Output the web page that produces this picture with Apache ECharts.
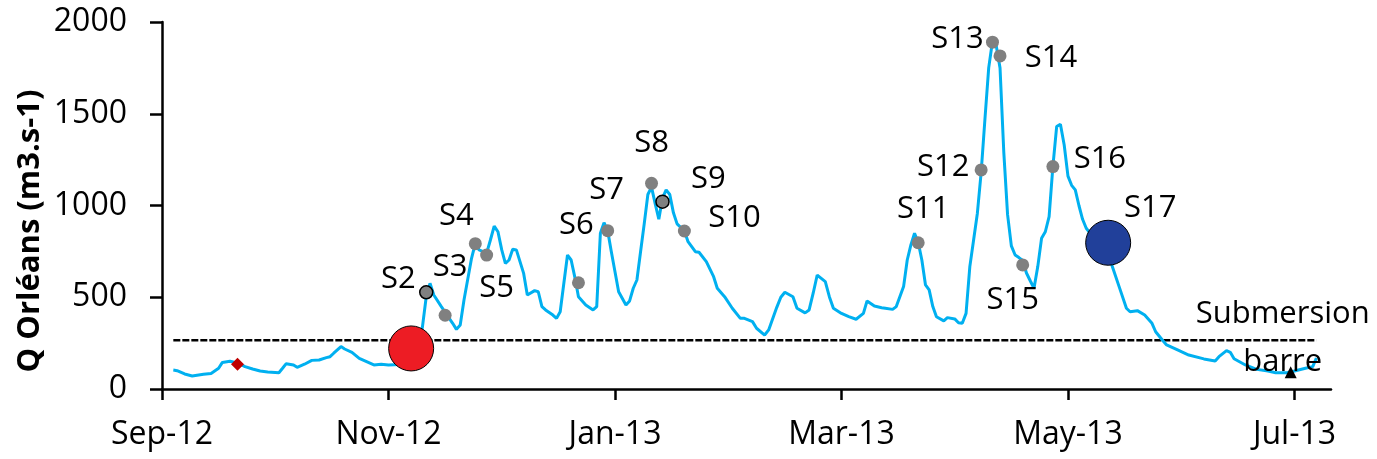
<!DOCTYPE html>
<html>
<head>
<meta charset="utf-8">
<script src="https://cdn.jsdelivr.net/npm/echarts@6/dist/echarts.min.js"></script>
<style>
  html, body { margin: 0; padding: 0; background: #fff; }
  #chart { width: 1377px; height: 459px; }
</style>
</head>
<body>
<div id="chart"></div>
<script>
// Daily discharge of the Loire at Orléans, Sep 2012 - Jul 2013 (m3/s)
const flowDates = [
  '2012-09-04','2012-09-05','2012-09-07','2012-09-09','2012-09-12','2012-09-14','2012-09-16','2012-09-17',
  '2012-09-19','2012-09-21','2012-09-23','2012-09-25','2012-09-27','2012-09-29','2012-10-02','2012-10-03',
  '2012-10-04','2012-10-06','2012-10-07','2012-10-09','2012-10-11','2012-10-13','2012-10-15','2012-10-16',
  '2012-10-17','2012-10-19','2012-10-20','2012-10-22','2012-10-24','2012-10-26','2012-10-28','2012-10-30',
  '2012-11-01','2012-11-04','2012-11-07','2012-11-08','2012-11-09','2012-11-10','2012-11-11','2012-11-12',
  '2012-11-13','2012-11-15','2012-11-18','2012-11-19','2012-11-20','2012-11-21','2012-11-23','2012-11-24',
  '2012-11-25','2012-11-27','2012-11-28','2012-11-29','2012-11-30','2012-12-01','2012-12-02','2012-12-03',
  '2012-12-04','2012-12-05','2012-12-07','2012-12-08','2012-12-10','2012-12-11','2012-12-12','2012-12-13',
  '2012-12-15','2012-12-16','2012-12-17','2012-12-18','2012-12-19','2012-12-20','2012-12-21','2012-12-22',
  '2012-12-24','2012-12-26','2012-12-27','2012-12-28','2012-12-29','2012-12-30','2012-12-31','2013-01-01',
  '2013-01-02','2013-01-04','2013-01-05','2013-01-06','2013-01-07','2013-01-08','2013-01-09','2013-01-10',
  '2013-01-11','2013-01-12','2013-01-13','2013-01-14','2013-01-15','2013-01-16','2013-01-17','2013-01-18',
  '2013-01-20','2013-01-21','2013-01-23','2013-01-24','2013-01-26','2013-01-28','2013-01-29','2013-01-31',
  '2013-02-02','2013-02-04','2013-02-05','2013-02-07','2013-02-08','2013-02-10','2013-02-11','2013-02-13',
  '2013-02-14','2013-02-15','2013-02-17','2013-02-18','2013-02-20','2013-02-21','2013-02-22','2013-02-23',
  '2013-02-25','2013-02-26','2013-02-27','2013-03-01','2013-03-03','2013-03-05','2013-03-07','2013-03-08',
  '2013-03-10','2013-03-12','2013-03-13','2013-03-15','2013-03-16','2013-03-18','2013-03-19','2013-03-20',
  '2013-03-21','2013-03-22','2013-03-23','2013-03-24','2013-03-25','2013-03-26','2013-03-27','2013-03-29',
  '2013-03-30','2013-04-01','2013-04-02','2013-04-03','2013-04-04','2013-04-05','2013-04-06','2013-04-07',
  '2013-04-08','2013-04-09','2013-04-10','2013-04-11','2013-04-12','2013-04-13','2013-04-14','2013-04-15',
  '2013-04-16','2013-04-17','2013-04-18','2013-04-19','2013-04-20','2013-04-21','2013-04-22','2013-04-23',
  '2013-04-24','2013-04-25','2013-04-26','2013-04-27','2013-04-28','2013-04-29','2013-04-30','2013-05-01',
  '2013-05-02','2013-05-03','2013-05-04','2013-05-05','2013-05-06','2013-05-09','2013-05-12','2013-05-13',
  '2013-05-15','2013-05-17','2013-05-18','2013-05-19','2013-05-20','2013-05-22','2013-05-24','2013-05-25',
  '2013-05-27','2013-05-28','2013-05-31','2013-06-03','2013-06-07','2013-06-10','2013-06-11','2013-06-13',
  '2013-06-14','2013-06-15','2013-06-18','2013-06-21','2013-06-24','2013-06-26','2013-06-29','2013-07-01',
  '2013-07-04','2013-07-06','2013-07-07'
];
const flowValues = [
  103,100,82,71,80,85,113,145,
  151,142,122,109,98,93,89,113,
  138,131,118,135,156,158,171,176,
  195,231,218,200,167,149,131,135,
  131,133,140,150,230,340,503,576,
  512,449,358,325,349,485,712,794,
  758,740,812,888,857,758,685,703,
  761,758,630,512,536,530,449,431,
  403,385,421,576,730,703,610,503,
  458,431,449,849,906,863,748,639,
  530,458,480,549,594,748,900,1060,
  1100,1010,925,1040,1085,1060,960,900,
  861,803,748,745,694,612,549,503,
  440,385,385,367,331,294,322,445,
  500,527,503,440,415,431,522,621,
  585,503,440,412,394,380,412,480,
  452,443,440,434,449,558,703,785,
  849,800,703,567,540,449,394,371,
  389,382,361,358,412,667,812,958,
  1180,1470,1750,1895,1870,1750,1290,950,
  780,730,716,700,632,590,549,667,
  821,857,939,1212,1430,1443,1330,1160,
  1110,1085,1000,925,876,800,720,676,
  558,440,421,424,427,403,358,312,
  263,240,213,185,164,153,176,209,
  200,165,131,107,98,89,89,98,
  113,122,169
];

// Sampling campaigns S2..S16
const sampleNames  = ['S2','S3','S4','S5','S6','S7','S8','S9','S10','S11','S12','S13','S14','S15','S16'];
const sampleDates  = ['2012-11-11','2012-11-16','2012-11-24','2012-11-27','2012-12-22','2012-12-30','2013-01-11',
                      '2013-01-14','2013-01-20','2013-03-22','2013-04-08','2013-04-11','2013-04-13','2013-04-19','2013-04-27'];
const sampleValues = [527,402,792,730,579,863,1121,1021,861,797,1194,1890,1815,676,1212];
const outlinedSamples = ['S2','S9'];

// First and last campaigns
const firstSample = { date: '2012-11-07', value: 221 };
const lastSample  = { name: 'S17', date: '2013-05-12', value: 797 };

// Other markers
const diamondPoint  = { date: '2012-09-21', value: 135 };
const trianglePoint = { date: '2013-06-30', value: 91, label: 'Submersion\nbarre' };
const submersionLevel = 266;
const submersionSpan  = ['2012-09-04', '2013-07-07'];

// Axis ticks
const xTickDates  = ['2012-09-01','2012-11-01','2013-01-01','2013-03-01','2013-05-01','2013-07-01'];
const xTickLabels = ['Sep-12','Nov-12','Jan-13','Mar-13','May-13','Jul-13'];
const xAxisEnd = '2013-07-11';
const yTitle = 'Q Orléans (m3.s-1)';

// Label placement for each campaign marker (pixels from the marker centre)
const sampleLabelOffsets = [
  [-28,-13],[5,-48],[-19,-27],[10,33],[-2,-58],[-1,-40],[0,-40],
  [46,-22],[50,-13],[5,-34],[-38,-3],[-35,-3],[51,2],[-10,35],[47,-7]
];
const lastLabelOffset = [42,-35];
const triangleLabelOffset = [-8,-34];

// Position along the axis in months from Sep 2012 (each month gets equal width)
function monthPos(s) {
  const [y, m, d] = s.split('-').map(Number);
  const dim = new Date(y, m, 0).getDate();
  return (y - 2012) * 12 + (m - 1) - 8 + (d - 1) / dim;
}

const FONT = '"Open Sans", "Noto Sans", sans-serif';
const tickPos = xTickDates.map(monthPos);

const flowData = flowDates.map((d, i) => [monthPos(d), flowValues[i]]);

const sampleData = sampleNames.map((n, i) => {
  const outlined = outlinedSamples.includes(n);
  return {
    name: n,
    value: [monthPos(sampleDates[i]), sampleValues[i]],
    itemStyle: outlined
      ? { color: '#808080', opacity: 1, borderColor: '#000', borderWidth: 1.5 }
      : { color: '#808080', opacity: 1 },
    label: { offset: sampleLabelOffsets[i] }
  };
});

const chart = echarts.init(document.getElementById('chart'), null, { renderer: 'canvas' });

const labelBase = {
  show: true,
  position: 'inside',
  formatter: '{b}',
  color: '#000',
  opacity: 1,
  fontFamily: FONT,
  fontSize: 31,
  align: 'center',
  verticalAlign: 'middle'
};

chart.setOption({
  animation: false,
  backgroundColor: '#fff',
  grid: { left: 162, right: 46, top: 22, bottom: 70, containLabel: false },
  xAxis: {
    type: 'value',
    min: 0,
    max: monthPos(xAxisEnd),
    splitLine: { show: false },
    axisLine: { show: true, onZero: false, lineStyle: { color: '#000', width: 2.5 } },
    axisTick: { show: true, length: 11, customValues: tickPos, lineStyle: { color: '#000', width: 2.5 } },
    axisLabel: {
      customValues: tickPos,
      margin: 30,
      color: '#000',
      fontFamily: FONT,
      fontSize: 32,
      formatter: v => {
        const i = tickPos.findIndex(p => Math.abs(p - v) < 1e-6);
        return i >= 0 ? xTickLabels[i] : '';
      }
    }
  },
  yAxis: {
    type: 'value',
    min: 0,
    max: 2000,
    interval: 500,
    splitLine: { show: false },
    axisLine: { show: true, lineStyle: { color: '#000', width: 2.5 } },
    axisTick: { show: true, length: 12, lineStyle: { color: '#000', width: 2.5 } },
    axisLabel: {
      margin: 35, color: '#000', fontFamily: FONT, fontSize: 32,
      formatter: v => String(v)
    }
  },
  graphic: [{
    type: 'text',
    x: 30, y: 231,
    rotation: Math.PI / 2,
    style: {
      text: yTitle,
      fontFamily: FONT,
      fontSize: 31,
      fontWeight: 'bold',
      fill: '#000',
      align: 'center',
      verticalAlign: 'middle'
    }
  }],
  series: [
    {
      name: 'submersion',
      type: 'line',
      data: submersionSpan.map(d => [monthPos(d), submersionLevel]),
      symbol: 'none',
      lineStyle: { color: '#000', width: 2.5, type: [7, 2] },
      z: 1
    },
    {
      name: 'Q',
      type: 'line',
      data: flowData,
      symbol: 'none',
      lineStyle: { color: '#00B0F0', width: 3 },
      z: 2
    },
    {
      name: 'diamond',
      type: 'scatter',
      symbol: 'diamond',
      symbolSize: 13,
      itemStyle: { color: '#C00000', opacity: 1 },
      data: [[monthPos(diamondPoint.date), diamondPoint.value]],
      z: 3
    },
    {
      name: 'samples',
      type: 'scatter',
      symbol: 'circle',
      symbolSize: 13,
      data: sampleData,
      label: labelBase,
      z: 4
    },
    {
      name: 'first',
      type: 'scatter',
      symbol: 'circle',
      symbolSize: 45,
      itemStyle: { color: '#ED1C24', opacity: 1, borderColor: '#000', borderWidth: 1 },
      data: [[monthPos(firstSample.date), firstSample.value]],
      z: 5
    },
    {
      name: 'last',
      type: 'scatter',
      symbol: 'circle',
      symbolSize: 45,
      itemStyle: { color: '#21409A', opacity: 1, borderColor: '#000', borderWidth: 1 },
      data: [{ name: lastSample.name, value: [monthPos(lastSample.date), lastSample.value] }],
      label: Object.assign({}, labelBase, { offset: lastLabelOffset }),
      z: 5
    },
    {
      name: 'barre',
      type: 'scatter',
      symbol: 'triangle',
      symbolSize: 12,
      itemStyle: { color: '#000', opacity: 1 },
      data: [{ name: trianglePoint.label, value: [monthPos(trianglePoint.date), trianglePoint.value] }],
      label: Object.assign({}, labelBase, { offset: triangleLabelOffset, lineHeight: 48 }),
      z: 6
    }
  ]
});
</script>
</body>
</html>
